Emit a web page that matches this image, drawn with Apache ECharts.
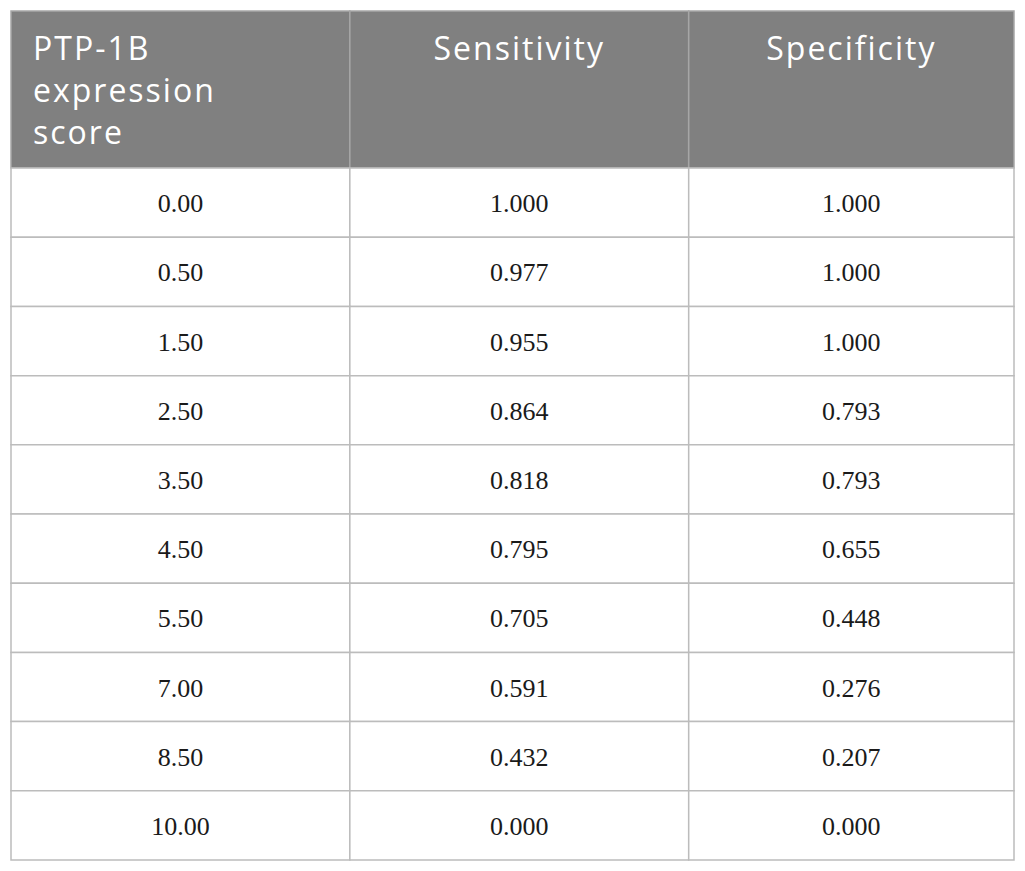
<!DOCTYPE html>
<html>
<head>
<meta charset="utf-8">
<script src="https://cdn.jsdelivr.net/npm/echarts@6/dist/echarts.min.js"></script>
<style>
  html, body { margin: 0; padding: 0; background: #fff; }
  #main { width: 1025px; height: 871px; }
  /* header font in the source is set wider than Open Sans */
  #main text[fill="#fff"], #main text[fill="#ffffff"] { letter-spacing: 2px; }
</style>
</head>
<body>
<div id="main"></div>
<script>
var chart = echarts.init(document.getElementById('main'), null, { renderer: 'svg' });

// table content
var headers = ['PTP-1B\nexpression\nscore', 'Sensitivity', 'Specificity'];
var scores = ['0.00', '0.50', '1.50', '2.50', '3.50', '4.50', '5.50', '7.00', '8.50', '10.00'];
var sensitivity = ['1.000', '0.977', '0.955', '0.864', '0.818', '0.795', '0.705', '0.591', '0.432', '0.000'];
var specificity = ['1.000', '1.000', '1.000', '0.793', '0.793', '0.655', '0.448', '0.276', '0.207', '0.000'];

// layout: column edges in column units, header height in row units
var colEdges = [0, 1, 2, 2.96];
var headerRows = 2.27;

var columns = [scores, sensitivity, specificity];
var bodyCells = [];
for (var r = 0; r < scores.length; r++) {
    for (var c = 0; c < columns.length; c++) {
        bodyCells.push([c, r, columns[c][r]]);
    }
}
var headerCells = headers.map(function (h, c) { return [c, -headerRows, h]; });

function cellBox(api, c, r0, r1) {
    var p0 = api.coord([colEdges[c], r0]);
    var p1 = api.coord([colEdges[c + 1], r1]);
    return { x: p0[0], y: p0[1], width: p1[0] - p0[0], height: p1[1] - p0[1] };
}

function renderBody(params, api) {
    var c = api.value(0), r = api.value(1);
    var b = cellBox(api, c, r, r + 1);
    return {
        type: 'group',
        children: [{
            type: 'rect',
            shape: b,
            style: { fill: '#ffffff', stroke: '#bcbcbc', lineWidth: 1.5 }
        }, {
            type: 'text',
            style: {
                text: bodyCells[params.dataIndex][2],
                x: b.x + b.width / 2,
                y: b.y + b.height / 2 + 1,
                align: 'center',
                verticalAlign: 'middle',
                font: '26px "Liberation Serif", "DejaVu Serif", serif',
                fill: '#1a1a1a'
            }
        }]
    };
}

function renderHeader(params, api) {
    var c = api.value(0);
    var b = cellBox(api, c, -headerRows, 0);
    var first = c === 0;
    return {
        type: 'group',
        children: [{
            type: 'rect',
            shape: b,
            style: { fill: '#808080', stroke: '#a6a6a6', lineWidth: 1.5 }
        }, {
            type: 'text',
            style: {
                text: headerCells[params.dataIndex][2],
                x: first ? b.x + 22 : b.x + b.width / 2,
                y: b.y + 15,
                align: first ? 'left' : 'center',
                verticalAlign: 'top',
                font: '32px "Open Sans", "Noto Sans", sans-serif',
                lineHeight: 42,
                fill: '#ffffff'
            }
        }]
    };
}

var option = {
    animation: false,
    backgroundColor: '#ffffff',
    grid: { left: 11, top: 11, width: 1003, height: 849 },
    xAxis: { type: 'value', min: 0, max: colEdges[3], show: false },
    yAxis: { type: 'value', min: -headerRows, max: scores.length, inverse: true, show: false },
    series: [{
        type: 'custom',
        clip: false,
        renderItem: renderHeader,
        data: headerCells.map(function (d) { return [d[0], d[1]]; })
    }, {
        type: 'custom',
        clip: false,
        renderItem: renderBody,
        data: bodyCells.map(function (d) { return [d[0], d[1]]; })
    }]
};

chart.setOption(option);
</script>
</body>
</html>
